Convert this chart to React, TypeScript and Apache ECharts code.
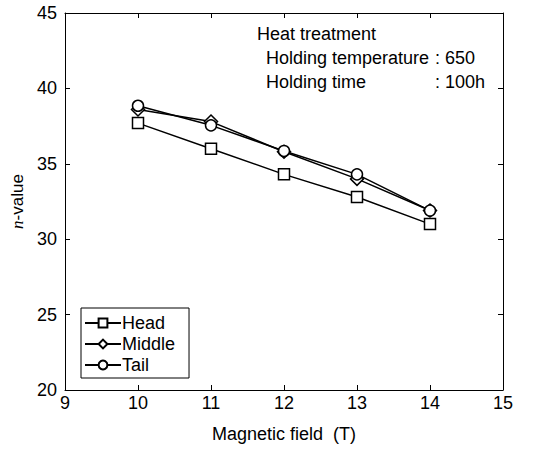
import React, { useEffect, useRef } from "react";
import * as echarts from "echarts";

const fields = [10, 11, 12, 13, 14];
const head = [37.7, 36.0, 34.3, 32.8, 31.0];
const middle = [38.6, 37.8, 35.8, 34.0, 31.9];
const tail = [38.85, 37.55, 35.85, 34.3, 31.9];
const annotation = ["Heat treatment", "Holding temperature", "Holding time"];
const annotationValues = [": 650", ": 100h"];

const FONT = "Liberation Sans, Arial, sans-serif";
const FS = 18;

export default function App() {
  const ref = useRef<HTMLDivElement>(null);
  useEffect(() => {
    document.body.style.margin = "0";
    const chart = echarts.init(ref.current!, null, { renderer: "svg" });
    const mk = (arr: number[]) => fields.map((f, i) => [f, arr[i]]);
    const seriesBase = (name: string, symbol: string, data: number[]) => ({
      name,
      type: "line",
      data: mk(data),
      symbol,
      symbolSize: symbol === "diamond" ? 13 : 11,
      lineStyle: { color: "#000", width: 1.5 },
      itemStyle: { color: "#fff", borderColor: "#000", borderWidth: 1.5 },
      xAxisIndex: 0,
      yAxisIndex: 0,
    });
    const axisCommon = {
      axisLine: { show: true, lineStyle: { color: "#000", width: 1 } },
      axisTick: { show: true, inside: true, length: 5, lineStyle: { color: "#000" } },
      splitLine: { show: false },
    };
    chart.setOption({
      animation: false,
      textStyle: { fontFamily: FONT },
      grid: { left: 65, right: 39, top: 13, bottom: 60 },
      legend: {
        orient: "vertical",
        left: 81,
        top: 308,
        itemWidth: 36,
        itemHeight: 11,
        itemGap: 3,
        padding: [6, 14, 4, 3],
        borderColor: "#000",
        borderWidth: 1,
        textStyle: { fontSize: FS, color: "#000", fontFamily: FONT, padding: [0, 0, 0, -4] },
        data: ["Head", "Middle", "Tail"],
      },
      xAxis: [
        {
          type: "value",
          min: 9,
          max: 15,
          interval: 1,
          position: "bottom",
          name: "Magnetic field  (T)",
          nameLocation: "middle",
          nameGap: 35,
          nameTextStyle: { fontSize: FS, color: "#000", fontFamily: FONT },
          axisLabel: { fontSize: FS, color: "#000", margin: 4, fontFamily: FONT },
          ...axisCommon,
        },
        {
          type: "value",
          min: 9,
          max: 15,
          interval: 1,
          position: "top",
          axisLabel: { show: false },
          ...axisCommon,
        },
      ],
      yAxis: [
        {
          type: "value",
          min: 20,
          max: 45,
          interval: 5,
          position: "left",
          name: "{i|n}-value",
          nameLocation: "middle",
          nameGap: 37,
          nameRotate: 90,
          nameTextStyle: {
            fontSize: 17,
            color: "#000",
            fontFamily: FONT,
            rich: { i: { fontStyle: "italic", fontFamily: "Liberation Serif, serif", fontSize: 17, color: "#000" } },
          },
          axisLabel: { fontSize: FS, color: "#000", margin: 8, fontFamily: FONT },
          ...axisCommon,
        },
        {
          type: "value",
          min: 20,
          max: 45,
          interval: 5,
          position: "right",
          axisLabel: { show: false },
          ...axisCommon,
        },
      ],
      graphic: [
        { type: "text", left: 257, top: 25, style: { text: annotation[0], fontSize: FS, fill: "#000", fontFamily: FONT } },
        { type: "text", left: 266, top: 49, style: { text: annotation[1], fontSize: FS, fill: "#000", fontFamily: FONT } },
        { type: "text", left: 266, top: 73, style: { text: annotation[2], fontSize: FS, fill: "#000", fontFamily: FONT } },
        { type: "text", left: 435, top: 49, style: { text: annotationValues[0], fontSize: FS, fill: "#000", fontFamily: FONT } },
        { type: "text", left: 435, top: 73, style: { text: annotationValues[1], fontSize: FS, fill: "#000", fontFamily: FONT } },
      ],
      series: [
        seriesBase("Head", "rect", head),
        seriesBase("Middle", "diamond", middle),
        seriesBase("Tail", "circle", tail),
      ],
    });
    return () => chart.dispose();
  }, []);
  return <div ref={ref} style={{ width: 542, height: 450 }} />;
}
